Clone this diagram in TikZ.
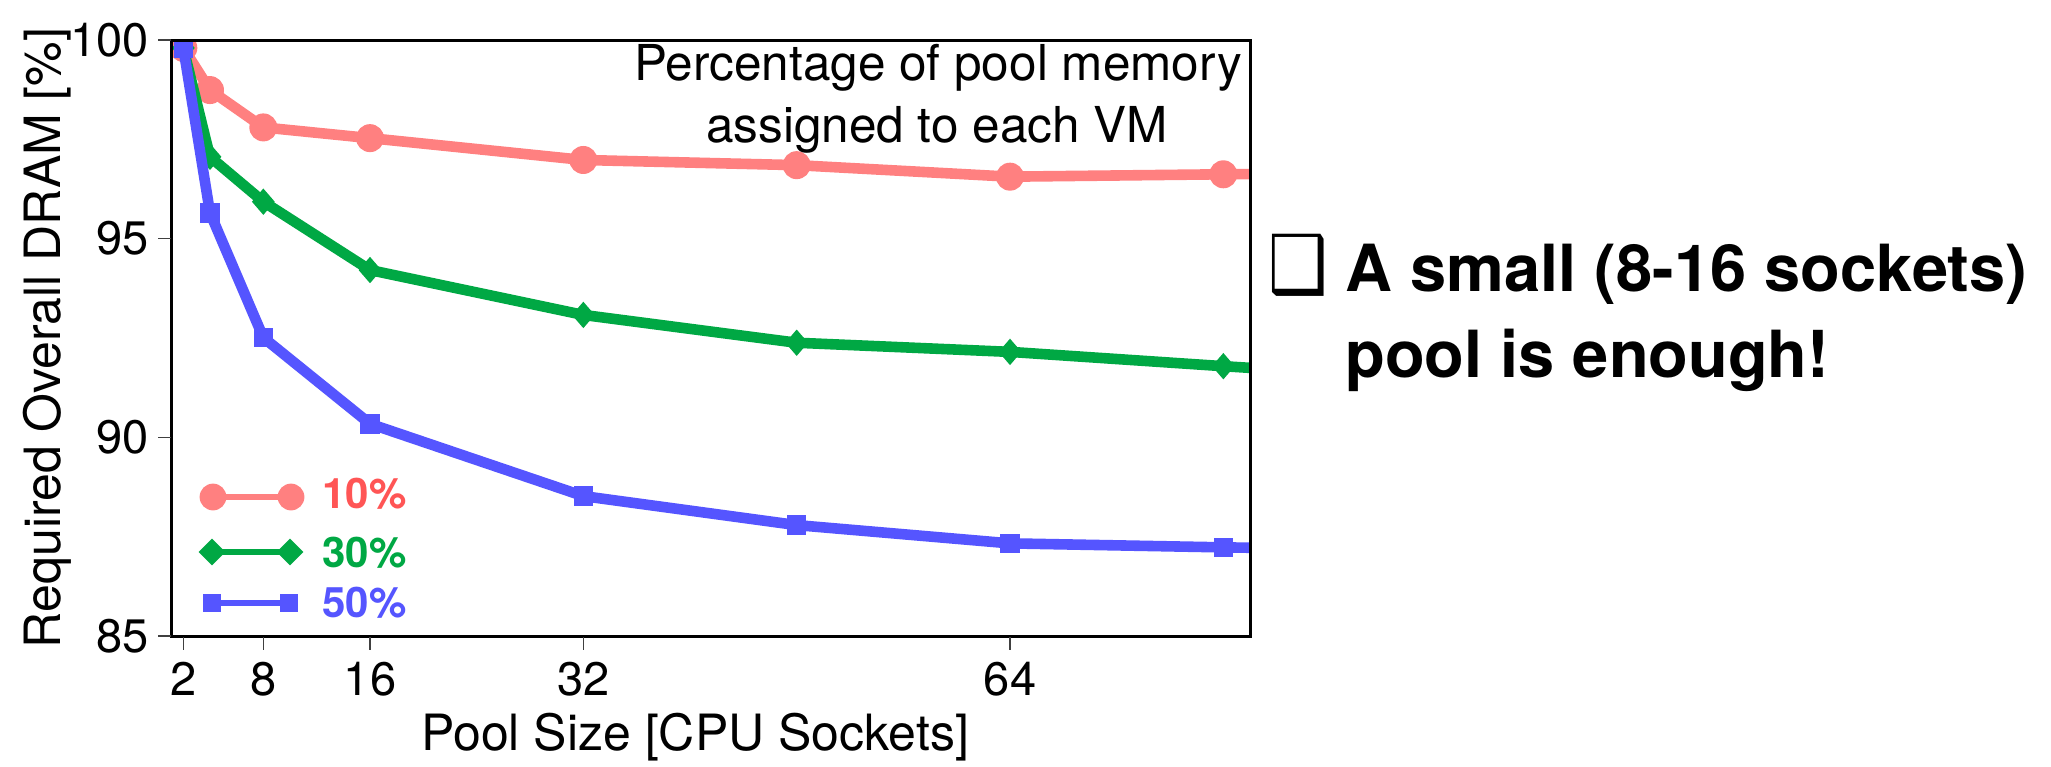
\documentclass[tikz,border=0pt]{standalone}
\usepackage{fontspec}
\setmainfont{TeX Gyre Heros}
\newfontfamily\symfont{DejaVu Sans}
\definecolor{redline}{RGB}{255,128,128}
\definecolor{redtext}{RGB}{255,85,85}
\definecolor{greenc}{RGB}{0,168,68}
\definecolor{bluec}{RGB}{85,85,255}
\begin{document}
\begin{tikzpicture}[x=0.5pt,y=-0.5pt,
  dataline/.style={line width=5.3pt, line join=round},
  legline/.style={line width=2.8pt},
  ticklab/.style={font=\fontsize{23.5pt}{28pt}\selectfont, inner sep=0pt},
  axtitle/.style={font=\fontsize{25pt}{30pt}\selectfont, inner sep=0pt},
  legtitle/.style={font=\fontsize{24.75pt}{30pt}\selectfont, inner sep=0pt},
  legtext/.style={font=\bfseries\fontsize{21pt}{25pt}\selectfont, inner sep=0pt, anchor=base west},
  bigtext/.style={font=\bfseries\fontsize{32.5pt}{39pt}\selectfont, inner sep=0pt, anchor=base west},
  tickmark/.style={line width=0.6pt, black!75}]
\useasboundingbox[fill=white] (0,0) rectangle (2051,766);

% data, clipped to the frame
\begin{scope}
\clip (171,40) rectangle (1250,636);
\begin{scope}[shift={(156.667,4013)}, x=6.6667pt, y=19.865pt]
  % 10%
  \draw[dataline, redline] (2,99.8) -- (4,98.74) -- (8,97.8) -- (16,97.53) -- (32,96.98) -- (48,96.85) -- (64,96.56) -- (80,96.62) -- (96,96.66);
  \foreach \v/\w in {2/99.8,4/98.74,8/97.8,16/97.53,32/96.98,48/96.85,64/96.56,80/96.62}
    \fill[redline] (\v,\w) circle[radius=7pt];
  % 30%
  \draw[dataline, greenc] (2,99.8) -- (4,97.06) -- (8,95.93) -- (16,94.21) -- (32,93.08) -- (48,92.38) -- (64,92.15) -- (80,91.79) -- (96,91.45);
  \foreach \v/\w in {2/99.8,4/97.06,8/95.93,16/94.21,32/93.08,48/92.38,64/92.15,80/91.79}
    \fill[greenc] (\v,\w) ++(0pt,6.6pt) -- ++(5.7pt,-6.6pt) -- ++(-5.7pt,-6.6pt) -- ++(-5.7pt,6.6pt) -- cycle;
  % 50%
  \draw[dataline, bluec] (2,99.8) -- (4,95.65) -- (8,92.51) -- (16,90.34) -- (32,88.52) -- (48,87.79) -- (64,87.33) -- (80,87.23) -- (96,87.15);
  \foreach \v/\w in {2/99.8,4/95.65,8/92.51,16/90.34,32/88.52,48/87.79,64/87.33,80/87.23}
    \fill[bluec] (\v,\w) ++(-4.9pt,-4.9pt) rectangle ++(9.8pt,9.8pt);
\end{scope}
\end{scope}

% frame and ticks
\draw[line width=1.5pt] (171,40) rectangle (1250,636);
\foreach \yy in {40,238.65,437.3,636}
  \draw[tickmark] (158,\yy) -- (171,\yy);
\foreach \xx in {183.33,263.33,370,583.33,1010}
  \draw[tickmark] (\xx,637) -- (\xx,650);

% tick labels
\node[ticklab, anchor=east] (y100) at (149,40) {100};
\node[ticklab, anchor=east] (y95) at (149,238.65) {95};
\node[ticklab, anchor=east] (y90) at (149,437.3) {90};
\node[ticklab, anchor=east] (y85) at (149,636) {85};
\node[ticklab, anchor=base] (x2) at (183.33,695) {2};
\node[ticklab, anchor=base] (x8) at (263.33,695) {8};
\node[ticklab, anchor=base] (x16) at (370,695) {16};
\node[ticklab, anchor=base] (x32) at (583.33,695) {32};
\node[ticklab, anchor=base] (x64) at (1010,695) {64};

% axis titles
\node[axtitle, rotate=90, anchor=base] (ytitle) at (60,338) {Required Overall DRAM [\%]};
\node[axtitle, anchor=base] (xtitle) at (695,750) {Pool Size [CPU Sockets]};

% legend title
\node[legtitle, anchor=base] (lt1) at (938,80) {Percentage of pool memory};
\node[legtitle, anchor=base] (lt2) at (937,142) {assigned to each VM};

% legend entries
\draw[legline, redline] (213,497) -- (291,497);
\fill[redline] (213,497) circle[radius=6.7pt] (291,497) circle[radius=6.7pt];
\node[legtext, text=redtext] (l10) at (322,508) {10\%};
\draw[legline, greenc] (212,552) -- (290,552);
\foreach \xx in {212,290}
  \fill[greenc] (\xx,552) ++(0pt,6.7pt) -- ++(6.7pt,-6.7pt) -- ++(-6.7pt,-6.7pt) -- ++(-6.7pt,6.7pt) -- cycle;
\node[legtext, text=greenc] (l30) at (322,567) {30\%};
\draw[legline, bluec] (212,603) -- (289,603);
\foreach \xx in {212,289}
  \fill[bluec] (\xx,603) ++(-4.6pt,-4.6pt) rectangle ++(9.2pt,9.2pt);
\node[legtext, text=bluec] (l50) at (322,617) {50\%};

% right-hand statement
\node[inner sep=0pt, anchor=base, font=\symfont\fontsize{40pt}{48pt}\selectfont] (bullet) at (1298,292) {\scalebox{0.83}[1]{❑}};
\node[bigtext] (s1) at (1345,291) {A small (8-16 sockets)};
\node[bigtext] (s2) at (1345,377) {pool is enough!};
\end{tikzpicture}
\end{document}
